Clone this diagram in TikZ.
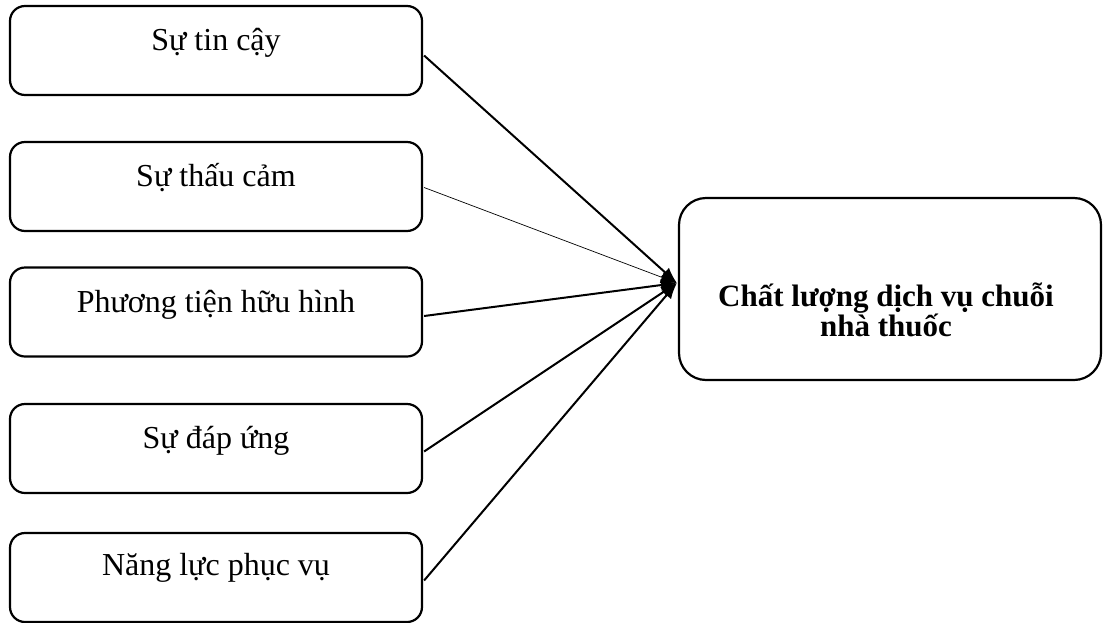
\documentclass[tikz,border=0pt]{standalone}
\usepackage{fontspec}
\setmainfont{Liberation Serif}
\usetikzlibrary{arrows.meta,calc}
\begin{document}
\begin{tikzpicture}[x=1pt,y=-1pt,
  leftbox/.style={draw,line width=2.2pt,rounded corners=15pt,minimum width=412pt,minimum height=89pt,inner sep=0pt},
  bigbox/.style={draw,line width=2.2pt,rounded corners=27pt,minimum width=422pt,minimum height=182pt,inner sep=0pt},
  lbl/.style={font=\fontsize{32}{36}\selectfont,anchor=base,inner sep=0pt},
  conn/.style={line width=2pt,-{Latex[length=16pt,width=12pt]}},
  thinconn/.style={line width=0.7pt,-{Latex[length=16pt,width=12pt]}}]
\useasboundingbox (0,0) rectangle (1104,622);
\node[leftbox] (b1) at (216,50.5) {};
\node[leftbox] (b2) at (216,186.5) {};
\node[leftbox] (b3) at (216,312) {};
\node[leftbox] (b4) at (216,448.5) {};
\node[leftbox] (b5) at (216,577.5) {};
\node[bigbox] (r) at (890,289) {};
\node[lbl] (t1) at (216,50) {Sự tin cậy};
\node[lbl] (t2) at (216,186) {Sự thấu cảm};
\node[lbl] (t3) at (216,312) {Phương tiện hữu hình};
\node[lbl] (t4) at (216,448) {Sự đáp ứng};
\node[lbl] (t5) at (216,575) {Năng lực phục vụ};
\node[lbl,font=\fontsize{31}{30}\selectfont\bfseries,align=center] (tr) at (886,336) {Chất lượng dịch vụ chuỗi\\nhà thuốc};
\coordinate (tip) at ($(r.west)+(-1,-6)$);
\draw[conn] ($(b1.east)+(1,5)$) -- (tip);
\draw[thinconn] ($(b2.east)+(1,1)$) -- (tip);
\draw[conn] ($(b3.east)+(1,4)$) -- (tip);
\draw[conn] ($(b4.east)+(1,3)$) -- (tip);
\draw[conn] ($(b5.east)+(1,3)$) -- (tip);
\end{tikzpicture}
\end{document}
